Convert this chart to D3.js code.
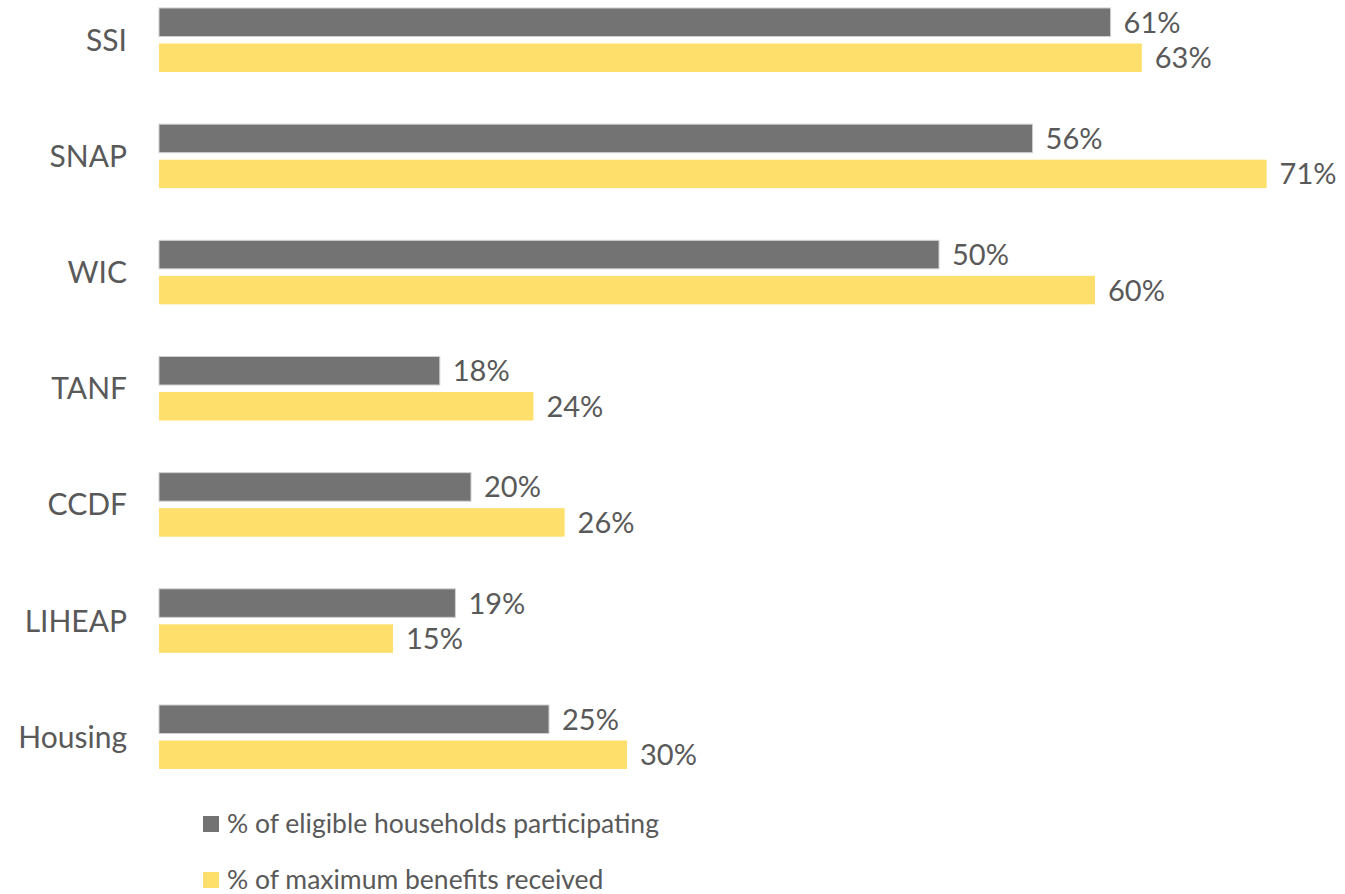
<!DOCTYPE html>
<html>
<head>
<meta charset="utf-8">
<script src="https://cdn.jsdelivr.net/npm/d3@7"></script>
<style>
  html, body { margin: 0; padding: 0; background: #ffffff; }
  svg { display: block; }
  text { font-family: Lato, "Open Sans", sans-serif; fill: #595959; }
</style>
</head>
<body>
<svg id="chart" width="1345" height="894"></svg>
<script>
const categories = ["SSI", "SNAP", "WIC", "TANF", "CCDF", "LIHEAP", "Housing"];
const seriesNames = ["% of eligible households participating", "% of maximum benefits received"];
const participating = [61, 56, 50, 18, 20, 19, 25];
const benefits = [63, 71, 60, 24, 26, 15, 30];
const seriesColors = ["#737373", "#FFDF6B"];

const svg = d3.select("#chart");

const x = d3.scaleLinear().domain([0, 80]).range([159, 159 + 80 * 15.6]);
const y = d3.scaleBand().domain(categories).range([8, 769]).paddingInner(0.449).paddingOuter(0);
const ySub = d3.scaleBand().domain([0, 1]).range([0, y.bandwidth()]).paddingInner(0.197);

const data = categories.map((c, i) => ({ cat: c, vals: [participating[i], benefits[i]] }));

const groups = svg.selectAll("g.grp").data(data).join("g")
  .attr("class", "grp")
  .attr("transform", d => `translate(0,${y(d.cat)})`);

groups.selectAll("rect").data(d => d.vals.map((v, s) => ({ v, s }))).join("rect")
  .attr("x", x(0))
  .attr("y", d => ySub(d.s))
  .attr("width", d => x(d.v) - x(0))
  .attr("height", ySub.bandwidth())
  .attr("fill", d => seriesColors[d.s])
  .attr("stroke", d => d.s === 0 ? "#d0d0d0" : "none")
  .attr("stroke-width", 1);

groups.selectAll("text.val").data(d => d.vals.map((v, s) => ({ v, s }))).join("text")
  .attr("class", "val")
  .attr("x", d => x(d.v) + 13)
  .attr("y", d => ySub(d.s) + ySub.bandwidth() / 2)
  .attr("dy", "0.36em")
  .attr("font-size", 29)
  .text(d => d.v + "%");

groups.append("text")
  .attr("class", "cat")
  .attr("x", 127)
  .attr("y", y.bandwidth() / 2)
  .attr("dy", "0.36em")
  .attr("text-anchor", "end")
  .attr("font-size", 30)
  .text(d => d.cat);

const legend = svg.append("g").attr("class", "legend");
const legBase = [833, 889];
seriesNames.forEach((name, i) => {
  legend.append("rect")
    .attr("x", 203).attr("y", legBase[i] - 17)
    .attr("width", 16).attr("height", 16)
    .attr("fill", seriesColors[i]);
  legend.append("text")
    .attr("x", 227).attr("y", legBase[i])
    .attr("font-size", 26.5)
    .text(name);
});
</script>
</body>
</html>
